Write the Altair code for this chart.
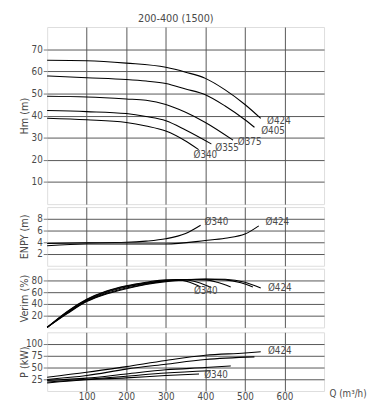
import altair as alt
import pandas as pd

FONT = "Liberation Sans Narrow, DejaVu Sans Condensed, Lato, sans-serif"
TXT = "#4a4a4a"
GRID = "#555555"

# ---------------- data ----------------
diameters = ["340", "355", "375", "405", "424"]

# Head Hm (m) vs Q (m3/h)
hm_340_q = [0, 100, 200, 250, 300, 350, 383]
hm_340_v = [38.8, 38.1, 36.9, 35.3, 33.0, 28.5, 24.6]
hm_355_q = [0, 100, 200, 250, 300, 350, 415]
hm_355_v = [42.3, 41.8, 40.9, 39.6, 37.7, 33.5, 27.2]
hm_375_q = [0, 100, 200, 250, 300, 350, 400, 470]
hm_375_v = [48.7, 48.4, 47.5, 46.9, 45.0, 41.5, 36.9, 28.9]
hm_405_q = [0, 100, 200, 250, 300, 350, 400, 450, 500, 524]
hm_405_v = [57.9, 57.1, 56.3, 55.6, 54.5, 52.0, 49.4, 44.3, 38.1, 34.7]
hm_424_q = [0, 100, 200, 300, 350, 400, 450, 500, 540]
hm_424_v = [65.0, 64.8, 63.7, 61.8, 59.6, 56.8, 51.6, 45.0, 38.7]
hm_label_d = ["424", "405", "375", "355", "340"]
hm_label_q = [556, 541, 482, 425, 370]
hm_label_v = [37.4, 33.0, 28.0, 25.5, 22.0]

# NPSH (m)
npsh_340_q = [0, 100, 200, 250, 300, 350, 388]
npsh_340_v = [3.8, 3.9, 4.0, 4.2, 4.6, 5.5, 6.9]
npsh_424_q = [0, 100, 200, 300, 400, 450, 500, 535]
npsh_424_v = [3.4, 3.7, 3.7, 3.7, 4.3, 4.7, 5.4, 6.8]
npsh_label_d = ["340", "424"]
npsh_label_q = [398, 552]
npsh_label_v = [7.5, 7.4]

# Efficiency (%)
eff_340_q = [0, 50, 100, 150, 200, 250, 300, 330, 360, 388]
eff_340_v = [0, 27, 48, 62, 71, 77, 81, 81, 77, 69]
eff_355_q = [0, 50, 100, 150, 200, 250, 300, 340, 380, 415]
eff_355_v = [0, 26, 47, 61, 70, 76, 80, 81.5, 77, 68]
eff_375_q = [0, 50, 100, 150, 200, 250, 300, 350, 400, 430, 464]
eff_375_v = [0, 25, 46, 60, 69, 75, 79.5, 81.5, 81, 77, 69]
eff_405_q = [0, 50, 100, 150, 200, 250, 300, 350, 400, 450, 490, 520]
eff_405_v = [0, 24, 45, 58, 67, 74, 79, 81.5, 82, 81, 76, 69]
eff_424_q = [0, 50, 100, 150, 200, 250, 300, 350, 400, 450, 500, 540]
eff_424_v = [0, 23, 44, 57, 66, 73, 78, 81, 82.5, 82, 77, 67]
eff_label_d = ["340", "424"]
eff_label_q = [371, 558]
eff_label_v = [62, 66.5]

# Power P (kW)
p_340_q = [0, 100, 200, 300, 384]
p_340_v = [17.2, 24.0, 28.0, 33.0, 36.4]
p_355_q = [0, 100, 200, 300, 413]
p_355_v = [19.3, 25.0, 31.6, 38.4, 43.0]
p_375_q = [0, 100, 200, 300, 400, 464]
p_375_v = [22.6, 27.5, 36.4, 45.2, 50.0, 53.5]
p_405_q = [0, 100, 200, 300, 400, 524]
p_405_v = [24.7, 33.0, 46.6, 57.0, 67.0, 72.7]
p_424_q = [0, 100, 200, 300, 400, 500, 540]
p_424_v = [29.5, 39.8, 52.0, 65.0, 76.0, 81.0, 83.6]
p_label_d = ["424", "340"]
p_label_q = [558, 397]
p_label_v = [86.0, 33.5]

x_ticks = [100, 200, 300, 400, 500, 600]


def build(pairs, ds, qs, vs):
    rows = []
    for d, cq, cv in pairs:
        for q, v in zip(cq, cv):
            rows.append({"kind": "curve", "d": d, "q": q, "v": v, "t": ""})
    for d, q, v in zip(ds, qs, vs):
        rows.append({"kind": "label", "d": d, "q": q, "v": v, "t": "\u00d8" + d})
    return pd.DataFrame(rows)


W = 283


def panel(df, ymax, ystep, ytitle, h, bottom=False):
    yvals = list(range(ystep, ymax, ystep))
    if bottom:
        xaxis = alt.Axis(
            values=x_ticks, grid=True, gridColor=GRID, gridWidth=1,
            domain=False, ticks=False, labelPadding=1, labelOverlap=False,
            labelFont=FONT, labelFontSize=10, labelColor=TXT,
            title="Q (m\u00b3/h)", titleX=W + 5, titleY=3, titleAlign="left",
            titleBaseline="middle", titleFont=FONT, titleFontSize=10,
            titleFontWeight="normal", titleColor=TXT,
        )
    else:
        xaxis = alt.Axis(
            values=x_ticks, grid=True, gridColor=GRID, gridWidth=1,
            domain=False, ticks=False, labels=False, title=None,
            minExtent=0, maxExtent=0,
        )
    yaxis = alt.Axis(
        values=yvals, grid=True, gridColor=GRID, gridWidth=1, domain=False,
        tickSize=4, tickColor="#777777", labelPadding=1, labelOverlap=False,
        labelFont=FONT, labelFontSize=10, labelColor=TXT,
        title=ytitle, titleFont=FONT, titleFontSize=11, titleFontWeight="normal",
        titleColor=TXT, titleAngle=-90, titleX=-23, titleY=h / 2,
        titleAlign="center", titleBaseline="middle",
    )
    base = alt.Chart(df).encode(
        x=alt.X("q:Q", scale=alt.Scale(domain=[0, 700], nice=False), axis=xaxis),
        y=alt.Y("v:Q", scale=alt.Scale(domain=[0, ymax], nice=False), axis=yaxis),
    )
    lines = base.transform_filter(alt.datum.kind == "curve").mark_line(
        color="black", strokeWidth=1.1, interpolate="monotone"
    ).encode(detail="d:N")
    text = base.transform_filter(alt.datum.kind == "label").mark_text(
        align="left", baseline="middle", font=FONT, fontSize=10, color=TXT
    ).encode(text="t:N")
    return alt.layer(lines, text).properties(width=W, height=h)


hm = build([
    ("340", hm_340_q, hm_340_v), ("355", hm_355_q, hm_355_v),
    ("375", hm_375_q, hm_375_v), ("405", hm_405_q, hm_405_v),
    ("424", hm_424_q, hm_424_v),
], hm_label_d, hm_label_q, hm_label_v)
npsh = build([("340", npsh_340_q, npsh_340_v), ("424", npsh_424_q, npsh_424_v)],
             npsh_label_d, npsh_label_q, npsh_label_v)
eff = build([
    ("340", eff_340_q, eff_340_v), ("355", eff_355_q, eff_355_v),
    ("375", eff_375_q, eff_375_v), ("405", eff_405_q, eff_405_v),
    ("424", eff_424_q, eff_424_v),
], eff_label_d, eff_label_q, eff_label_v)
pw = build([
    ("340", p_340_q, p_340_v), ("355", p_355_q, p_355_v),
    ("375", p_375_q, p_375_v), ("405", p_405_q, p_405_v),
    ("424", p_424_q, p_424_v),
], p_label_d, p_label_q, p_label_v)

p1 = panel(hm, 80, 10, "Hm (m)", 181).properties(
    title=alt.TitleParams(
        "200-400 (1500)", font=FONT, fontSize=11, fontWeight="normal",
        color=TXT, offset=3, dx=-10, anchor="middle", frame="group",
    )
)
p2 = panel(npsh, 10, 2, "ENPY (m)", 60)
p3 = panel(eff, 100, 20, "Verim (%)", 60)
p4 = panel(pw, 125, 25, "P (kW)", 60, bottom=True)

chart = alt.vconcat(p1, p2, p3, p4, spacing=1).properties(
    padding={"left": 10, "top": 0, "right": 5, "bottom": 5}
).configure_view(stroke="#444444", strokeWidth=1).configure(background="white")

chart.save("out.html", embed_options={"renderer": "svg", "actions": False})
